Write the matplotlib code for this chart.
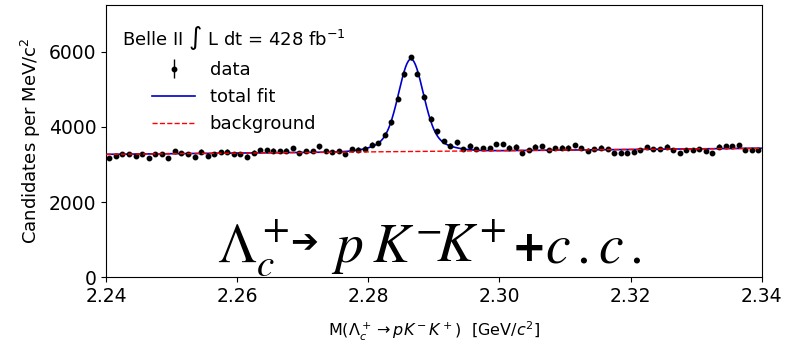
import numpy as np
import matplotlib
matplotlib.use("Agg")
import matplotlib.pyplot as plt

# bin centres: 1 MeV bins from 2.240 to 2.340 GeV
bin_lo = 2.240
bin_width = 0.001
counts = [3165, 3235, 3280, 3271, 3227, 3271, 3173, 3280, 3280, 3165,
          3360, 3298, 3271, 3209, 3342, 3218, 3271, 3324, 3342, 3271,
          3280, 3209, 3316, 3378, 3378, 3369, 3360, 3369, 3431, 3298,
          3351, 3360, 3480, 3355, 3340, 3350, 3280, 3400, 3395, 3420,
          3530, 3578, 3790, 4124, 4747, 5404, 5849, 5422, 4809, 4213,
          3880, 3627, 3502, 3591, 3413, 3502, 3413, 3431, 3431, 3547,
          3538, 3449, 3476, 3316, 3387, 3476, 3497, 3387, 3431, 3449,
          3449, 3520, 3431, 3369, 3413, 3449, 3413, 3298, 3316, 3316,
          3324, 3387, 3458, 3413, 3413, 3476, 3387, 3298, 3387, 3387,
          3413, 3360, 3298, 3476, 3493, 3493, 3520, 3387, 3387, 3387]

# fit parameters (double gaussian + linear background)
bkg_at_lo = 3270.0
bkg_slope = 1620.0      # per GeV
mean = 2.2865
amp_core, sigma_core = 2060.0, 0.0018
amp_wide, sigma_wide = 400.0, 0.0040

counts = np.array(counts, dtype=float)
x = bin_lo + bin_width * (np.arange(len(counts)) + 0.5)

xf = np.linspace(2.24, 2.34, 1001)
bkg = bkg_at_lo + bkg_slope * (xf - bin_lo)
sig = (amp_core * np.exp(-0.5 * ((xf - mean) / sigma_core) ** 2)
       + amp_wide * np.exp(-0.5 * ((xf - mean) / sigma_wide) ** 2))

fig = plt.figure(figsize=(7.86, 3.46), dpi=100)
ax = fig.add_axes([0.135, 0.199, 0.834, 0.787])

h_data = ax.errorbar(x, counts, yerr=np.sqrt(counts), fmt='o', color='black',
                     markersize=3.2, elinewidth=1, label='data', zorder=3)
h_fit, = ax.plot(xf, bkg + sig, color='mediumblue', lw=1.2, label='total fit', zorder=2)
h_bkg, = ax.plot(xf, bkg, color='red', ls='--', lw=1.0, label='background', zorder=4)

ax.set_xlim(2.24, 2.34)
ax.set_ylim(0, 7250)
ax.set_xticks([2.24, 2.26, 2.28, 2.30, 2.32, 2.34])
ax.set_yticks([0, 2000, 4000, 6000])
ax.tick_params(labelsize=13.5)
ax.set_ylabel(r'Candidates per MeV/c$^2$', fontsize=13)
ax.set_xlabel(r'M($\Lambda_c^+ \to pK^-K^+$)  [GeV/$c^2$]', fontsize=11.5,
              labelpad=10)

ax.legend([h_data, h_fit, h_bkg], ['data', 'total fit', 'background'],
          title=r'Belle II $\int$ L dt = 428 fb$^{-1}$', loc='upper left',
          frameon=False, fontsize=13, title_fontsize=13, handlelength=2.4,
          bbox_to_anchor=(0.0, 0.99))

# big decay label pasted over the plot, built from pieces
base = 0.055
big = dict(transform=ax.transAxes, fontsize=40, math_fontfamily='stix',
           ha='left', va='baseline', zorder=10, clip_on=False)
bold = dict(transform=ax.transAxes, fontweight='bold', family='DejaVu Sans',
            ha='left', va='baseline', zorder=10, clip_on=False)
ax.text(0.169, base, r'$\Lambda_c^+$', **big)
ax.text(0.280, base + 0.035, '\u2794', fontsize=24, **bold)
ax.text(0.343, base, r'$p$', **big)
ax.text(0.405, base, r'$K^{-}$', **big)
ax.text(0.503, base, r'$K^{+}$', **big)
ax.text(0.618, base + 0.005, '+', fontsize=30, **bold)
ax.text(0.669, base, r'$c\,.c\,.$', **big)

fig.savefig('out.png', dpi=100)
